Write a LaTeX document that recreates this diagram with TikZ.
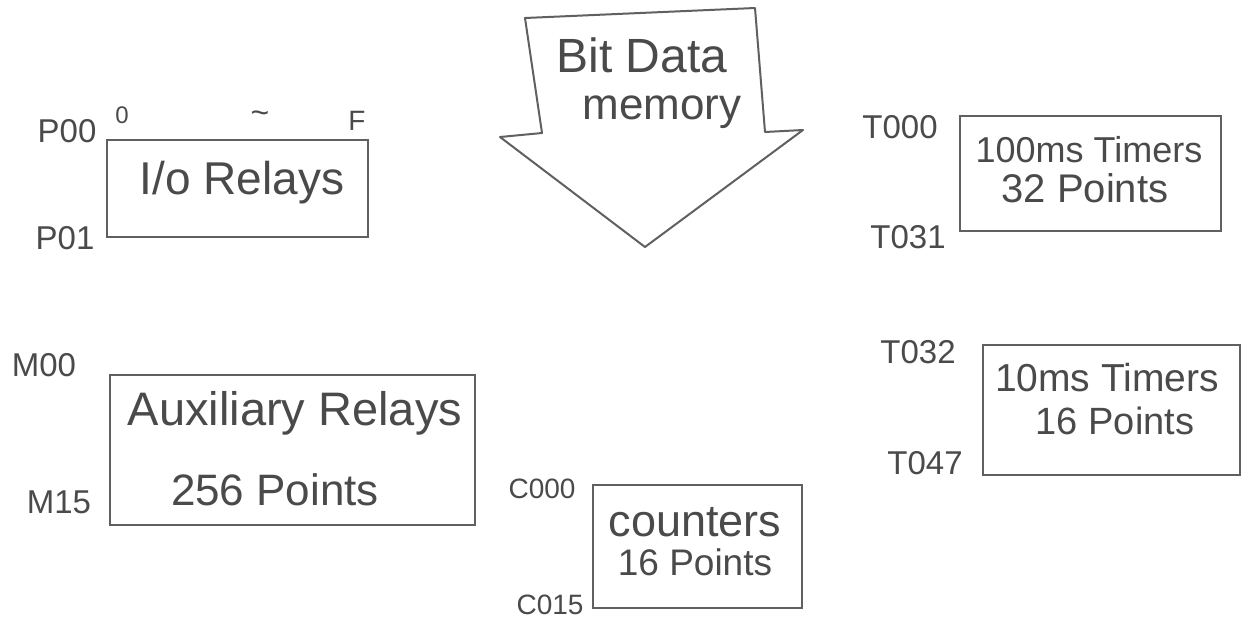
\documentclass[tikz,border=0pt]{standalone}
\usepackage{fontspec}
\setmainfont{Liberation Sans}
\definecolor{pencil}{HTML}{606060}
\definecolor{ink}{HTML}{4A4A4A}
\tikzset{
  box/.style={draw=pencil, line width=2pt, inner sep=0pt, rectangle},
  txt/.style={text=ink, inner sep=0pt, anchor=center},
  lab/.style={text=ink, inner sep=0pt, anchor=center, font=\fontsize{33}{36}\selectfont},
  pen/.style={draw=pencil, line width=2pt, line join=round}
}
\newcommand{\fs}[1]{\fontsize{#1}{#1}\selectfont}
\begin{document}
\begin{tikzpicture}[x=1pt,y=-1pt]
\useasboundingbox[fill=white] (0,0) rectangle (1248,622);

% Bit Data Memory arrow
\coordinate (a1) at (525,18);
\coordinate (a2) at (755,8);
\coordinate (a3) at (765,132);
\coordinate (a4) at (803,130);
\coordinate (a5) at (645,247);
\coordinate (a6) at (500,137);
\coordinate (a7) at (542,133);
\draw[pen] (a1) -- (a2) -- (a3) -- (a4) -- (a5) -- (a6) -- (a7) -- cycle;
\node[txt, font=\fs{48}] (bit) at (642,55) {Bit Data};
\node[txt, font=\fs{44}] (mem) at (662,112) {memory};

% I/O Relays
\node[box, minimum width=261pt, minimum height=97pt] (io) at (237.5,188.5) {};
\node[txt, font=\fs{46}] (iot) at (242,183) {I/o Relays};
\node[lab] (p00) at (67,131) {P00};
\node[lab] (p01) at (65,238) {P01};
\node[txt, font=\fs{24}] (zero) at (122,115) {0};
\node[txt, font=\fs{32}] (tilde) at (260,117) {\char"7E};
\node[txt, font=\fs{28}] (f) at (357,121) {F};

% 100ms Timers
\node[box, minimum width=261pt, minimum height=115pt] (t1) at (1090.5,173) {};
\node[txt, font=\fs{36}] (t1a) at (1089,150) {100ms Timers};
\node[txt, font=\fs{40}] (t1b) at (1085,188) {32 Points};
\node[lab] (t000) at (900,127) {T000};
\node[lab] (t031) at (908,237) {T031};

% 10ms Timers
\node[box, minimum width=257pt, minimum height=130pt] (t2) at (1111.5,410) {};
\node[txt, font=\fs{39}] (t2a) at (1107,378) {10ms Timers};
\node[txt, font=\fs{38}] (t2b) at (1115,421) {16 Points};
\node[lab] (t032) at (918,352) {T032};
\node[lab] (t047) at (925,463) {T047};

% Auxiliary Relays
\node[box, minimum width=365pt, minimum height=150pt] (aux) at (292.5,450) {};
\node[txt, font=\fs{47}] (auxa) at (295,413) {Auxiliary Relays};
\node[txt, font=\fs{44}] (auxb) at (275,490) {256 Points};
\node[lab] (m00) at (44,365) {M00};
\node[lab] (m15) at (59,502) {M15};

% Counters
\node[box, minimum width=209pt, minimum height=123pt] (cnt) at (697.5,546.5) {};
\node[txt, font=\fs{45}] (cnta) at (695,522) {counters};
\node[txt, font=\fs{37}] (cntb) at (695,562) {16 Points};
\node[lab, font=\fs{28}] (c000) at (542,489) {C000};
\node[lab, font=\fs{28}] (c015) at (550,605) {C015};
\end{tikzpicture}
\end{document}
